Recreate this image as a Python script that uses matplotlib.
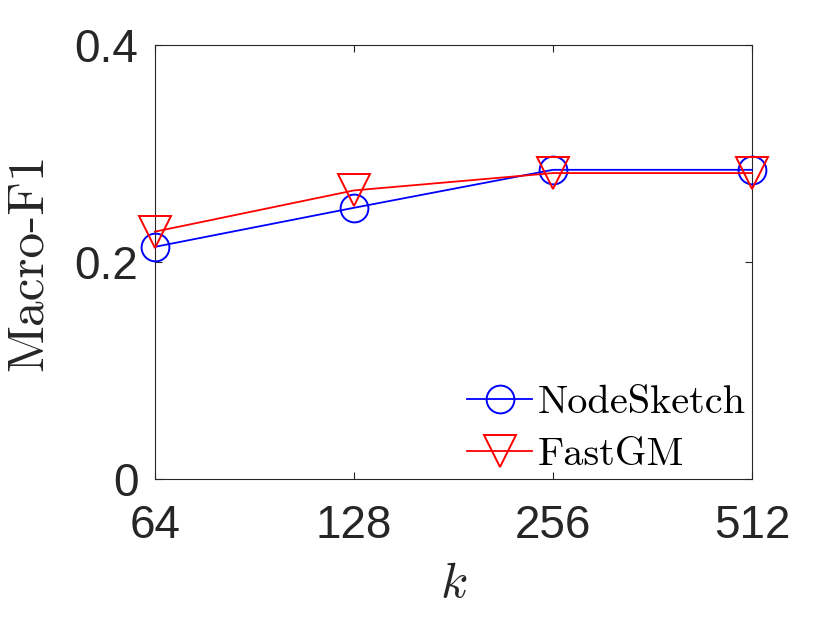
import matplotlib
matplotlib.use('Agg')
import matplotlib.pyplot as plt
from matplotlib.ticker import FixedLocator, NullLocator

# Data
k_values = [64, 128, 256, 512]
k_labels = ['64', '128', '256', '512']
nodesketch_f1 = [0.214, 0.250, 0.285, 0.285]
fastgm_f1 = [0.228, 0.266, 0.282, 0.282]
y_ticks = [0, 0.2, 0.4]
y_labels = ['0', '0.2', '0.4']

plt.rcParams['mathtext.fontset'] = 'cm'
axis_grey = (0.15, 0.15, 0.15)

fig = plt.figure(figsize=(8.3, 6.23), dpi=100)
ax = fig.add_axes([0.1867, 0.2311, 0.7193, 0.6966])

ax.plot(k_values, nodesketch_f1, color='blue', linewidth=1.3, marker='o', markersize=20,
        markerfacecolor='none', markeredgecolor='blue', markeredgewidth=1.4, label='NodeSketch',
        clip_on=False, zorder=3)
ax.plot(k_values, fastgm_f1, color='red', linewidth=1.3, marker='v', markersize=23,
        markerfacecolor='none', markeredgecolor='red', markeredgewidth=1.4, label='FastGM',
        clip_on=False, zorder=3)

ax.set_xscale('log', base=2)
ax.set_xlim(64, 512)
ax.set_ylim(0, 0.4)
ax.xaxis.set_major_locator(FixedLocator(k_values))
ax.xaxis.set_minor_locator(NullLocator())
ax.set_xticklabels(k_labels)
ax.set_yticks(y_ticks)
ax.set_yticklabels(y_labels)

ax.tick_params(direction='in', length=5, width=0.8, colors=axis_grey, labelsize=33,
               top=True, right=True)
ax.tick_params(axis='x', pad=18)
ax.tick_params(axis='y', pad=12)
for label in ax.get_xticklabels() + ax.get_yticklabels():
    label.set_fontfamily('Liberation Sans')
for spine in ax.spines.values():
    spine.set_color(axis_grey)
    spine.set_linewidth(0.8)

ax.set_ylabel('Macro-F1', fontfamily='cmr10', fontsize=37, color=axis_grey, labelpad=16)
ax.set_xlabel(r'$k$', fontsize=36, color=axis_grey, labelpad=8)

leg = ax.legend(loc='lower right', bbox_to_anchor=(1.0, 0.0), frameon=False,
                prop={'family': 'cmr10', 'size': 29}, handlelength=1.6, handletextpad=0.15,
                labelspacing=0.4, borderaxespad=0.05, borderpad=0.1)
for text in leg.get_texts():
    text.set_color('black')

fig.savefig('out.png', dpi=100)
